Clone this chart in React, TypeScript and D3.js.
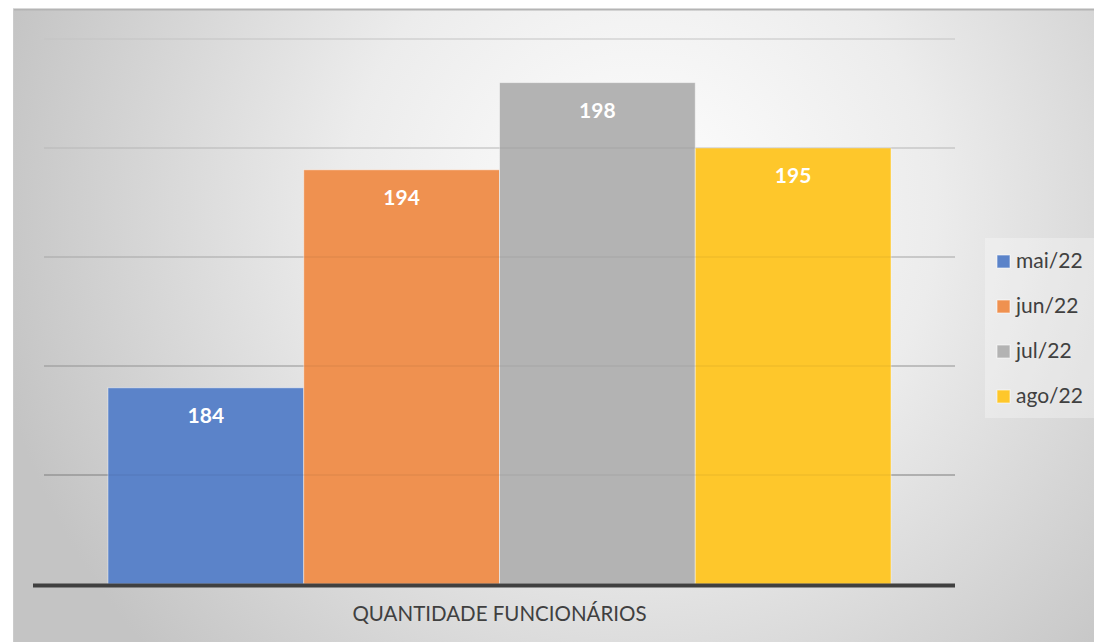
import React from 'react'
import * as d3 from 'd3'

// chart data
const months = ['mai/22', 'jun/22', 'jul/22', 'ago/22']
const values = [184, 194, 198, 195]
const colors = ['#5b83c9', '#ef9150', '#b3b3b3', '#fec72b']
const category = 'QUANTIDADE FUNCIONÁRIOS'
const yTicks = [180, 185, 190, 195, 200]

const W = 1094
const H = 642
const margin = { top: 39, right: 139, bottom: 58, left: 44 }
const font = 'Lato, "Open Sans", sans-serif'

export default function App() {
    const plotW = W - margin.left - margin.right
    const plotH = H - margin.top - margin.bottom

    const y = d3.scaleLinear().domain([175, 200]).range([plotH, 0])

    // one category, four series side by side
    const x0 = d3.scaleBand().domain([category]).range([0, plotW]).paddingOuter(0.0817).paddingInner(0)
    const x1 = d3.scaleBand().domain(months).range([0, x0.bandwidth()])

    const gridColors = ['#8c8c8c', '#a2a2a2', '#b6b6b6', '#c8c8c8', '#d6d6d6']

    return (
        <div style={{ position: 'absolute', left: 0, top: 0 }}>
            <svg width={W} height={H} style={{ display: 'block' }}>
                <defs>
                    <radialGradient id="bg" gradientUnits="userSpaceOnUse" cx={640} cy={210} r={660}>
                        <stop offset="0" stopColor="#ffffff" />
                        <stop offset="0.45" stopColor="#ececec" />
                        <stop offset="1" stopColor="#c4c4c4" />
                    </radialGradient>
                </defs>
                <rect x={0} y={0} width={W} height={H} fill="#ffffff" />
                <rect x={13} y={9} width={W - 13} height={H - 9} fill="url(#bg)" />
                <line x1={13} x2={W} y1={9.5} y2={9.5} stroke="#b4b4b4" strokeWidth={2} />
                <line x1={13.5} x2={13.5} y1={9} y2={H} stroke="#cbcbcb" strokeWidth={1} />

                <g transform={`translate(${margin.left}, ${margin.top})`}>
                    {/* gridlines behind */}
                    {yTicks.map((t, i) => (
                        <line key={t} x1={0} x2={plotW} y1={y(t)} y2={y(t)}
                            stroke={gridColors[i]} strokeWidth={1.2} />
                    ))}

                    {/* bars */}
                    {months.map((m, i) => {
                        const bx = (x0(category) as number) + (x1(m) as number)
                        return (
                            <g key={m}>
                                <rect x={bx} y={y(values[i])} width={x1.bandwidth()}
                                    height={plotH - y(values[i])} fill={colors[i]}
                                    stroke="rgba(255,255,255,0.45)" strokeWidth={1} />
                                <text x={bx + x1.bandwidth() / 2} y={y(values[i]) + 30}
                                    textAnchor="middle" dominantBaseline="middle"
                                    fill="#ffffff" fontWeight="bold" fontSize={21}
                                    fontFamily={font}>{values[i]}</text>
                            </g>
                        )
                    })}

                    {/* gridlines show through the bars a little */}
                    {yTicks.map((t) => (
                        <line key={'o' + t} x1={0} x2={plotW} y1={y(t)} y2={y(t)}
                            stroke="#000" strokeOpacity={0.08} strokeWidth={1.2} />
                    ))}

                    {/* baseline */}
                    <line x1={-11} x2={plotW} y1={plotH + 1.5} y2={plotH + 1.5}
                        stroke="#404040" strokeWidth={4} />

                    <text x={plotW / 2} y={plotH + 32} textAnchor="middle"
                        dominantBaseline="middle" fill="#404040" fontSize={20.5}
                        fontFamily={font}>{category}</text>
                </g>

                {/* legend */}
                <g transform="translate(985, 238)">
                    <rect x={0} y={0} width={W - 985} height={180} fill="#ffffff" fillOpacity={0.3} />
                    {months.map((m, i) => (
                        <g key={m} transform={`translate(12, ${24 + i * 45})`}>
                            <rect x={0} y={-7} width={13} height={13} fill={colors[i]}
                                stroke="rgba(255,255,255,0.6)" strokeWidth={1} />
                            <text x={19} y={1} dominantBaseline="middle" fill="#404040"
                                fontSize={21} fontFamily={font}>{m}</text>
                        </g>
                    ))}
                </g>
            </svg>
        </div>
    )
}
